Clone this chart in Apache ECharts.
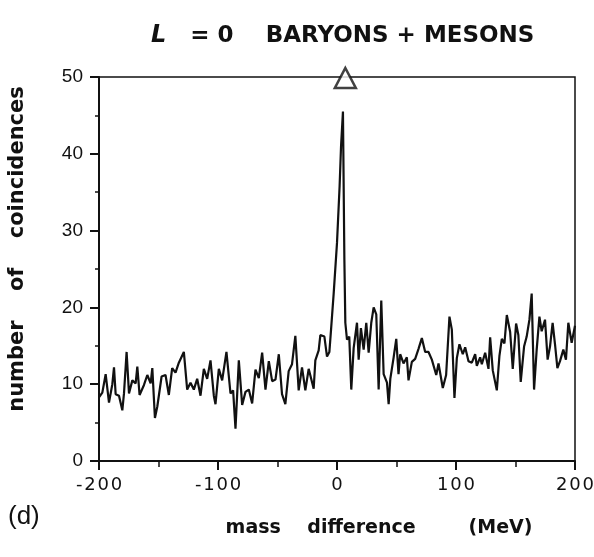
<!DOCTYPE html>
<html>
<head>
<meta charset="utf-8">
<script src="https://cdn.jsdelivr.net/npm/echarts@6/dist/echarts.min.js"></script>
<style>
  html, body { margin: 0; padding: 0; background: #fff; }
  #chart { width: 594px; height: 557px; }
</style>
</head>
<body>
<div id="chart"></div>
<script>
// mass difference (MeV)
const mass = [
  -200, -197.2, -194.4, -191.6, -188.8, -187.4, -186, -183.2, -180.4, -179, -176.8, -174.8, -172,
  -169.2, -167.8, -165.9, -162.2, -159.4, -156.6, -155.2, -153, -151, -147.4, -144.1, -141.3,
  -138.5, -135.7, -132.9, -128.7, -125.9, -123.1, -120.3, -117.5, -114.7, -111.9, -109.1, -106.3,
  -103.5, -102.1, -99.3, -96.5, -92.9, -89.5, -87.3, -85.3, -82.5, -79.7, -76.9, -74.1, -71.3,
  -68.5, -65.7, -62.9, -60.1, -57.3, -54.5, -51.7, -48.9, -46.2, -43.4, -40.6, -37.8, -35, -32.2,
  -29.4, -26.6, -23.8, -19.6, -18.2, -15.4, -14, -10.6, -8.4, -6.4, -5, -2.8, 0, 2.2, 3.4, 5,
  6.2, 7, 8.4, 10.3, 12, 14, 16.8, 18.2, 20.1, 22.4, 24.6, 26.6, 28.8, 30.8, 33, 35, 37.2, 39.2,
  42, 43.4, 44.8, 47.6, 49.8, 51.7, 53.1, 55.9, 58.7, 60.1, 62.9, 65.7, 68.5, 71.3, 74.1, 76.9,
  79.7, 83.4, 85.3, 88.9, 91.7, 94.5, 96.5, 98.7, 100.7, 102.9, 105.7, 107.7, 110.5, 113.3,
  116.1, 117.5, 120.3, 121.7, 124.5, 127.3, 128.7, 130.9, 134.3, 136.5, 138.5, 140.7, 142.7,
  145.5, 147.7, 150.5, 152.4, 154.4, 157.2, 159.4, 161.7, 163.6, 165.6, 167.8, 170.1, 172, 174.8,
  177, 179, 181.2, 183.2, 185.2, 187.4, 190.2, 192.4, 194.4, 197.2, 200
];
// number of coincidences
const counts = [
  8.3, 8.9, 11.3, 7.6, 10.0, 12.2, 8.7, 8.5, 6.6, 8.8, 14.2, 8.8, 10.5,
  10.1, 12.3, 8.6, 9.9, 11.2, 10.1, 12.1, 5.6, 7.1, 11.0, 11.2, 8.6,
  12.1, 11.5, 12.8, 14.2, 9.3, 10.2, 9.3, 10.7, 8.5, 12.0, 10.7, 13.1,
  8.5, 7.4, 12.0, 10.5, 14.2, 8.8, 9.2, 4.2, 13.1, 7.3, 9.0, 9.3, 7.5,
  11.9, 10.8, 14.1, 9.3, 13.0, 10.4, 10.6, 13.9, 8.7, 7.4, 11.7, 12.6, 16.3, 9.2,
  12.2, 9.2, 12.0, 9.4, 13.1, 14.4, 16.4, 16.2, 13.6, 14.2, 17.1, 21.8, 28.4, 35.8, 41.0, 45.5,
  26.2, 18.0, 15.8, 16.2, 9.3, 14.7, 18.0, 13.2, 17.3, 14.5, 18.0, 14.1, 18.0, 20.0, 19.1, 9.3, 20.9, 11.3,
  10.2, 7.4, 10.7, 13.5, 15.9, 11.3, 13.9, 12.7, 13.5, 10.5, 12.9, 13.3, 14.6, 16.0, 14.2, 14.2,
  13.2, 11.2, 12.7, 9.5, 11.2, 18.8, 17.1, 8.2, 13.4, 15.2, 13.9, 14.8, 13.0, 12.8,
  13.9, 12.4, 13.5, 12.6, 14.1, 12.0, 16.1, 11.8, 9.2, 13.7, 15.9, 15.3, 19.0,
  16.8, 12.0, 17.9, 16.4, 10.3, 14.9, 16.2, 18.4, 21.8, 9.3, 14.5, 18.8, 16.9, 18.4,
  13.2, 14.9, 18.0, 15.2, 12.1, 13.0, 14.5, 13.2, 18.0, 15.4, 17.6
];
// position of the open triangle above the peak
const marker = [[7, 50]];

const font = '"DejaVu Sans", "Liberation Sans", Arial, sans-serif';
const chart = echarts.init(document.getElementById('chart'));

chart.setOption({
  backgroundColor: '#fff',
  animation: false,
  title: {
    text: '{i|L}   = 0    BARYONS + MESONS',
    left: 146,
    top: 19,
    textStyle: {
      fontFamily: font,
      fontSize: 23,
      fontWeight: 'bold',
      color: '#111',
      rich: {
        i: { fontFamily: font, fontSize: 24, fontWeight: 'bold', fontStyle: 'italic', color: '#111' }
      }
    }
  },
  graphic: [{
    type: 'text',
    left: 8,
    top: 504,
    style: { text: '(d)', font: '26px "Liberation Sans", Arial, sans-serif', fill: '#111' }
  }],
  grid: {
    left: 99, right: 19, top: 77, bottom: 96,
    outerBoundsMode: 'none',
    containLabel: false,
    show: true, borderColor: '#111', borderWidth: 1.5, backgroundColor: 'transparent'
  },
  xAxis: {
    type: 'value',
    min: -200, max: 200, interval: 100,
    name: 'mass    difference        (MeV)',
    nameLocation: 'middle',
    nameGap: 58,
    nameTextStyle: { fontFamily: font, fontSize: 19, fontWeight: 'bold', color: '#111', padding: [0, 0, 0, 84] },
    axisLine: { onZero: false, lineStyle: { color: '#111', width: 2 } },
    axisTick: { show: true, length: 9, lineStyle: { color: '#111', width: 2 } },
    minorTick: { show: true, splitNumber: 2, length: 6, lineStyle: { color: '#111', width: 1.5 } },
    splitLine: { show: false },
    axisLabel: {
      fontFamily: font, fontSize: 18, color: '#111', margin: 15,
      formatter: v => String(v).split('').join('\u200A')
    }
  },
  yAxis: {
    type: 'value',
    min: 0, max: 50, interval: 10,
    name: 'number    of    coincidences',
    nameLocation: 'middle',
    nameGap: 71,
    nameTextStyle: { fontFamily: font, fontSize: 21, fontWeight: 'bold', color: '#111', padding: [0, 0, 0, 40] },
    axisLine: { onZero: false, lineStyle: { color: '#111', width: 2 } },
    axisTick: { show: true, length: 9, lineStyle: { color: '#111', width: 2 } },
    minorTick: { show: true, splitNumber: 2, length: 4, lineStyle: { color: '#111', width: 1.5 } },
    splitLine: { show: false },
    axisLabel: { fontFamily: '"Liberation Sans", Arial, sans-serif', fontSize: 19, color: '#111', margin: 16 }
  },
  series: [
    {
      type: 'line',
      data: mass.map((m, i) => [m, counts[i]]),
      showSymbol: false,
      lineStyle: { color: '#111', width: 2.2 },
      silent: true
    },
    {
      type: 'scatter',
      data: marker,
      symbol: 'triangle',
      symbolSize: [21, 20],
      symbolOffset: [0, 1],
      clip: false,
      itemStyle: { color: '#fff', borderColor: '#111', borderWidth: 2.5 },
      silent: true
    }
  ]
});
</script>
</body>
</html>
